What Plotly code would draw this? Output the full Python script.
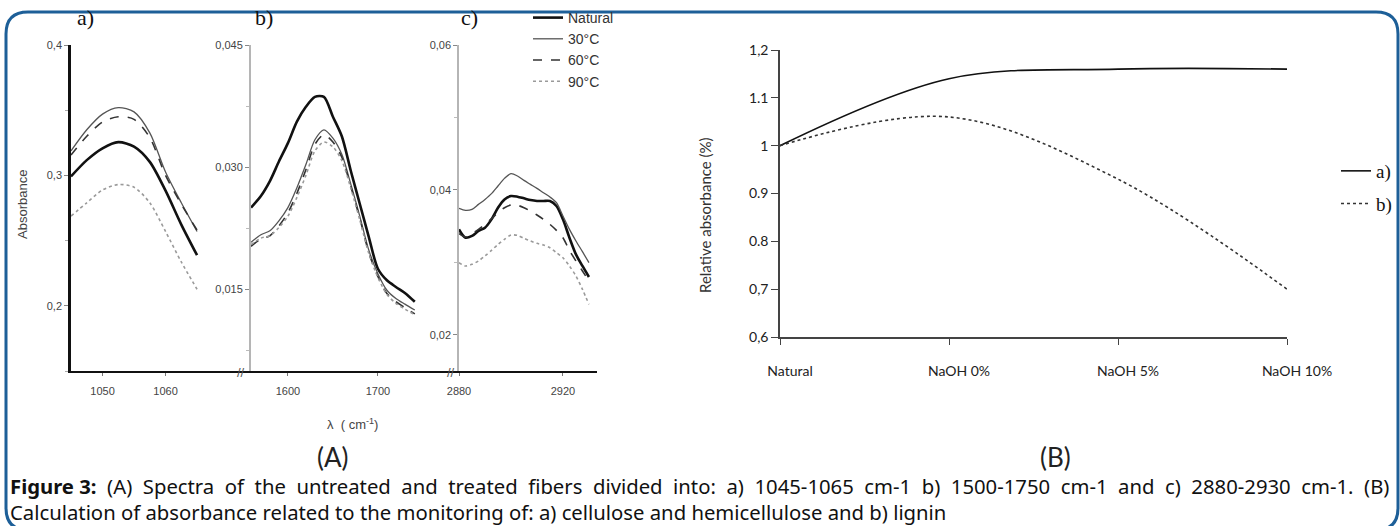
import plotly.graph_objects as go

# ---------------- data ----------------
series_names = ["Natural", "30°C", "60°C", "90°C"]

# panel a) 1045-1065 cm-1
wn_a = [1045, 1047.5, 1050, 1052.5, 1055, 1057.5, 1060, 1062.5, 1065]
abs_a_natural = [0.2992, 0.3117, 0.3208, 0.3255, 0.3221, 0.3104, 0.2883, 0.2623, 0.2388]
abs_a_30 = [0.3188, 0.3350, 0.3470, 0.3520, 0.3487, 0.3326, 0.3026, 0.2790, 0.2570]
abs_a_60 = [0.3156, 0.3300, 0.3410, 0.3450, 0.3430, 0.3290, 0.3000, 0.2780, 0.2580]
abs_a_90 = [0.2688, 0.2790, 0.2888, 0.2930, 0.2909, 0.2790, 0.2570, 0.2336, 0.2127]

# panel b) 1500-1750 cm-1
wn_b = [1559, 1570, 1580, 1590, 1600, 1610, 1620, 1630, 1640, 1650,
        1660, 1670, 1680, 1690, 1700, 1710, 1720, 1730, 1741]
abs_b_natural = [0.02505, 0.02647, 0.0283, 0.0307, 0.03296, 0.0356, 0.03742, 0.03864, 0.03864, 0.0362,
                 0.03377, 0.02951, 0.02546, 0.0214, 0.01755, 0.01613, 0.01531, 0.01458, 0.01349]
abs_b_30 = [0.02079, 0.02172, 0.02221, 0.02343, 0.02505, 0.02748, 0.03033, 0.03337, 0.03459, 0.03357,
            0.03155, 0.02789, 0.02395, 0.01978, 0.01694, 0.01491, 0.0139, 0.0132, 0.01248]
abs_b_60 = [0.0203, 0.0212, 0.0216, 0.0228, 0.0244, 0.0268, 0.0297, 0.0328, 0.0340, 0.0331,
            0.0312, 0.0276, 0.0237, 0.0195, 0.0166, 0.0145, 0.0135, 0.0128, 0.0120]
abs_b_90 = [0.0205, 0.0213, 0.0216, 0.0226, 0.0240, 0.0263, 0.0290, 0.0320, 0.0331, 0.0325,
            0.0308, 0.0274, 0.0235, 0.0194, 0.0165, 0.0144, 0.0133, 0.0126, 0.0119]

# panel c) 2880-2930 cm-1
wn_c = [2880, 2882.5, 2885, 2887.5, 2890, 2892.5, 2895, 2897.5, 2900, 2902.5, 2905,
        2907.5, 2910, 2912.5, 2915, 2917.5, 2920, 2922.5, 2925, 2927.5, 2930]
abs_c_natural = [0.03455, 0.0334, 0.03364, 0.03433, 0.03478, 0.03593, 0.03754, 0.03869, 0.03915, 0.03906, 0.03883,
                 0.0386, 0.03847, 0.03847, 0.03847, 0.03778, 0.03593, 0.0334, 0.0311, 0.0295, 0.02798]
abs_c_30 = [0.03745, 0.03717, 0.03731, 0.038, 0.03869, 0.03948, 0.04054, 0.04159, 0.04224, 0.04192, 0.04131,
            0.04076, 0.04021, 0.03961, 0.03902, 0.03823, 0.0364, 0.03455, 0.03295, 0.03147, 0.02995]
abs_c_60 = [0.03396, 0.0335, 0.03396, 0.03455, 0.03524, 0.03603, 0.03685, 0.03754, 0.03791, 0.03787, 0.03754,
            0.03708, 0.03653, 0.03593, 0.03524, 0.03441, 0.0334, 0.03165, 0.03019, 0.02881, 0.02743]
abs_c_90 = [0.02995, 0.0295, 0.02972, 0.03019, 0.03088, 0.03165, 0.03248, 0.03317, 0.03377, 0.03372, 0.03331,
            0.03295, 0.03262, 0.0324, 0.03202, 0.03133, 0.03064, 0.0295, 0.02812, 0.02627, 0.0242]

# panel B
treatments = ["Natural", "NaOH 0%", "NaOH 5%", "NaOH 10%"]
rel_a = [1.0, 1.14, 1.16, 1.16]
rel_b = [1.0, 1.06, 0.93, 0.70]
rel_names = ["a)", "b)"]

# tick labels
ya_vals = [0.2, 0.3, 0.4]
ya_text = ["0,2", "0,3", "0,4"]
yb_vals = [0.015, 0.030, 0.045]
yb_text = ["0,015", "0,030", "0,045"]
yc_vals = [0.02, 0.04, 0.06]
yc_text = ["0,02", "0,04", "0,06"]
xa_vals = [1050, 1060]
xb_vals = [1600, 1700]
xc_vals = [2880, 2920]
yB_vals = [0.6, 0.7, 0.8, 0.9, 1.0, 1.1, 1.2]
yB_text = ["0,6", "0,7", "0.8", "0.9", "1", "1.1", "1,2"]

# ---------------- helpers ----------------
W, H = 1400, 526


def px(x):
    return x / W


def py(y):
    return 1 - y / H


styles = [
    dict(color="#111111", width=2.6, dash="solid"),
    dict(color="#555555", width=1.3, dash="solid"),
    dict(color="#333333", width=1.6, dash="dash"),
    dict(color="#9a9a9a", width=1.6, dash="dot"),
]

fig = go.Figure()

panels = [
    ("x", "y", wn_a, [abs_a_natural, abs_a_30, abs_a_60, abs_a_90], True),
    ("x2", "y2", wn_b, [abs_b_natural, abs_b_30, abs_b_60, abs_b_90], False),
    ("x3", "y3", wn_c, [abs_c_natural, abs_c_30, abs_c_60, abs_c_90], False),
]
for xr, yr, xs, ys_list, show in panels:
    for name, ys, st in zip(series_names, ys_list, styles):
        fig.add_trace(go.Scatter(
            x=xs, y=ys, mode="lines", name=name, xaxis=xr, yaxis=yr,
            line=dict(color=st["color"], width=st["width"], dash=st["dash"], shape="spline", smoothing=0.8),
            showlegend=show, legend="legend", hoverinfo="skip"))

fig.add_trace(go.Scatter(x=treatments, y=rel_a, mode="lines", name=rel_names[0], xaxis="x4", yaxis="y4",
                         line=dict(color="#111111", width=1.6, shape="spline", smoothing=1.0),
                         legend="legend2", legendgroup="ga", showlegend=True))
fig.add_trace(go.Scatter(x=treatments, y=rel_b, mode="lines", name=rel_names[1], xaxis="x4", yaxis="y4",
                         line=dict(color="#333333", width=1.6, dash="dot", shape="spline", smoothing=1.0),
                         legend="legend2", legendgroup="gb", showlegend=True))

tickfont_A = dict(family="Liberation Sans, Arial", size=11, color="#444444")
ydom = [py(371), py(45)]

common_x = dict(showgrid=False, zeroline=False, showline=True, linecolor="#111111", linewidth=2,
                ticks="outside", ticklen=3, tickcolor="#777777", tickfont=tickfont_A, ticklabelstandoff=6)
fig.update_layout(
    xaxis=dict(domain=[px(71), px(250)], range=[1045, 1073.4], anchor="y", tickvals=xa_vals, **common_x),
    xaxis2=dict(domain=[px(251), px(457)], range=[1559, 1787.9], anchor="y2", tickvals=xb_vals, **common_x),
    xaxis3=dict(domain=[px(459), px(597)], range=[2880, 2933.1], anchor="y3", tickvals=xc_vals, **common_x),
    yaxis=dict(domain=ydom, range=[0.15, 0.4], anchor="x", tickvals=ya_vals, ticktext=ya_text,
               showgrid=False, zeroline=False, showline=True, linecolor="#111111", linewidth=2.5,
               ticks="outside", ticklen=4, tickcolor="#888888", tickfont=tickfont_A,
               minor=dict(ticks="outside", ticklen=3, tickcolor="#aaaaaa", dtick=0.05, tick0=0)),
    yaxis2=dict(domain=ydom, range=[0.005, 0.045], anchor="x2", tickvals=yb_vals, ticktext=yb_text,
                showgrid=False, zeroline=False, showline=True, linecolor="#b5b5b5", linewidth=2,
                ticks="outside", ticklen=4, tickcolor="#888888", tickfont=tickfont_A,
                minor=dict(ticks="outside", ticklen=3, tickcolor="#bbbbbb", tickvals=[0.0075, 0.0225, 0.0375])),
    yaxis3=dict(domain=ydom, range=[0.015, 0.06], anchor="x3", tickvals=yc_vals, ticktext=yc_text,
                showgrid=False, zeroline=False, showline=True, linecolor="#b5b5b5", linewidth=1.5,
                ticks="outside", ticklen=4, tickcolor="#888888", tickfont=tickfont_A,
                minor=dict(ticks="outside", ticklen=3, tickcolor="#bbbbbb", tickvals=[0.03, 0.05])),
    xaxis4=dict(domain=[px(780), px(1287)], range=[0, 3], anchor="y4", type="category",
                showgrid=False, zeroline=False, showline=True, linecolor="#444444", linewidth=1.5,
                ticks="outside", ticklen=6, tickcolor="#444444", ticklabelstandoff=14, ticklabelshift=10,
                tickfont=dict(family="Lato, Open Sans", size=14, color="#222222")),
    yaxis4=dict(domain=[py(337), py(50)], range=[0.6, 1.2], anchor="x4", tickvals=yB_vals, ticktext=yB_text,
                showgrid=False, zeroline=False, showline=True, linecolor="#444444", linewidth=1.5,
                ticks="outside", ticklen=7, tickcolor="#444444",
                tickfont=dict(family="Lato, Open Sans", size=14, color="#222222")),
    legend=dict(x=px(528), y=py(2), xanchor="left", yanchor="top", bgcolor="rgba(0,0,0,0)",
                font=dict(family="Liberation Sans, Arial", size=14, color="#333333"), tracegroupgap=0,
                itemwidth=30),
    legend2=dict(x=px(1336), y=py(152), xanchor="left", yanchor="top", bgcolor="rgba(0,0,0,0)",
                 font=dict(family="Liberation Serif, Times New Roman", size=19, color="#111111"),
                 traceorder="grouped", tracegroupgap=5, itemwidth=30),
    width=W, height=H, margin=dict(l=0, r=0, t=0, b=0, pad=0, autoexpand=False),
    paper_bgcolor="white", plot_bgcolor="white", showlegend=True,
)

ann = []


def add_text(text, x, y, size, family="Lato, Open Sans", color="#222222", angle=0, xanchor="center",
             align="center"):
    ann.append(dict(text=text, x=px(x), y=py(y), xref="paper", yref="paper", showarrow=False,
                    xanchor=xanchor, yanchor="middle", textangle=angle, align=align,
                    font=dict(family=family, size=size, color=color)))


serif = "Liberation Serif, Times New Roman"
sans = "Liberation Sans, Arial"
for lbl, x in [("a)", 85), ("b)", 264), ("c)", 469)]:
    add_text(lbl, x, 18, 22, serif, "#111111")
add_text("Absorbance", 22, 205, 13, sans, "#444444", angle=-90)
add_text("λ  ( cm<sup>-1</sup>)", 352, 424, 13, sans, "#444444")
for x in [241, 451]:
    add_text("//", x, 372, 13, sans, "#555555")
add_text("(A)", 333, 457, 26)
add_text("(B)", 1055, 457, 26)
add_text("Relative absorbance (%)", 705, 215, 15, color="#333333", angle=-90)

cap1_words = ["<b>Figure 3:</b>", "(A)", "Spectra", "of", "the", "untreated", "and", "treated", "fibers",
              "divided", "into:", "a)", "1045-1065", "cm-1", "b)", "1500-1750", "cm-1", "and", "c)",
              "2880-2930", "cm-1.", "(B)"]
cap1 = " \u00a0".join(cap1_words)
cap2 = "Calculation of absorbance related to the monitoring of: a) cellulose and hemicellulose and b) lignin"
add_text(cap1 + "<br>" + cap2, 8, 499, 20.3, family="Noto Sans, Open Sans", color="#111111",
         xanchor="left", align="left")
fig.update_layout(annotations=ann)

# rounded frame
x0, x1, y0, y1, r = 6, 1398, 12, 530, 22
path = (f"M {px(x0)},{py(y0 + r)} Q {px(x0)},{py(y0)} {px(x0 + r)},{py(y0)} "
        f"L {px(x1 - r)},{py(y0)} Q {px(x1)},{py(y0)} {px(x1)},{py(y0 + r)} "
        f"L {px(x1)},{py(y1 - r)} Q {px(x1)},{py(y1)} {px(x1 - r)},{py(y1)} "
        f"L {px(x0 + r)},{py(y1)} Q {px(x0)},{py(y1)} {px(x0)},{py(y1 - r)} Z")
fig.add_shape(type="path", path=path, xref="paper", yref="paper",
              line=dict(color="#1d5f98", width=3), fillcolor="rgba(0,0,0,0)", layer="above")

fig.write_html("out.html", config={"displayModeBar": False},
               post_script="document.body.style.margin='0';document.body.style.overflow='hidden';")
